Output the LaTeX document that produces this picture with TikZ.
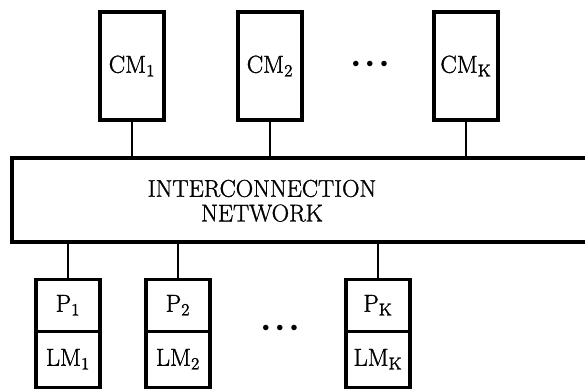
\documentclass[tikz,border=0pt]{standalone}
\usepackage{fontspec}
\newfontfamily\labelfont{Latin Modern Roman}[FakeBold=1.2]
\usepackage{tikz}
\usetikzlibrary{positioning}
\tikzstyle{cmem} = [rectangle, minimum width=1.6cm, minimum height=2.7cm, text centered, draw=black, line width=2.2pt, font=\labelfont\fontsize{17.5}{19}\selectfont]
\tikzstyle{proc} = [rectangle, minimum width=1.6cm, minimum height=1.3cm, text centered, draw=black, line width=2.2pt, font=\labelfont\fontsize{17.5}{19}\selectfont]
\tikzstyle{lmem} = [rectangle, minimum width=1.6cm, minimum height=1.4cm, text centered, draw=black, line width=2.2pt, font=\labelfont\fontsize{17.5}{19}\selectfont]
\tikzstyle{network} = [rectangle, minimum width=15cm, minimum height=2.1cm, draw=black, line width=2.2pt]
\tikzstyle{link} = [line width=1.5pt]

\begin{document}
\begin{tikzpicture}[node distance=1.35cm]
        \useasboundingbox (0,0) rectangle (14.625,-9.75);
        \clip (0,0) rectangle (14.625,-9.75);

        % shared memories on top
        \node (cm1) [cmem] at (3.3,-1.65) {CM\textsubscript{1}};
        \node (cm2) [cmem] at (6.75,-1.65) {CM\textsubscript{2}};
        \node (cmdots) at (9.25,-1.6) {$\bullet\;\bullet\;\bullet$};
        \node (cmk) [cmem] at (11.65,-1.65) {CM\textsubscript{K}};

        % the network, open on the right
        \node (net) [network] at (7.8,-5.0) {};
        \node (netlabel) [font=\labelfont\fontsize{17.2}{17.5}\selectfont, align=center] at (6.55,-5.02) {INTERCONNECTION\\NETWORK};

        % processors with their local memories
        \node (p1) [proc] at (1.7,-7.63) {P\textsubscript{1}};
        \node (lm1) [lmem, below of=p1] {LM\textsubscript{1}};
        \node (p2) [proc] at (4.45,-7.63) {P\textsubscript{2}};
        \node (lm2) [lmem, below of=p2] {LM\textsubscript{2}};
        \node (pdots) at (7.0,-8.2) {$\bullet\;\bullet\;\bullet$};
        \node (pk) [proc] at (9.45,-7.63) {P\textsubscript{K}};
        \node (lmk) [lmem, below of=pk] {LM\textsubscript{K}};

        \draw [link] (cm1) -- (cm1 |- net.north);
        \draw [link] (cm2) -- (cm2 |- net.north);
        \draw [link] (cmk) -- (cmk |- net.north);
        \draw [link] (p1) -- (p1 |- net.south);
        \draw [link] (p2) -- (p2 |- net.south);
        \draw [link] (pk) -- (pk |- net.south);
    \end{tikzpicture}
\end{document}
